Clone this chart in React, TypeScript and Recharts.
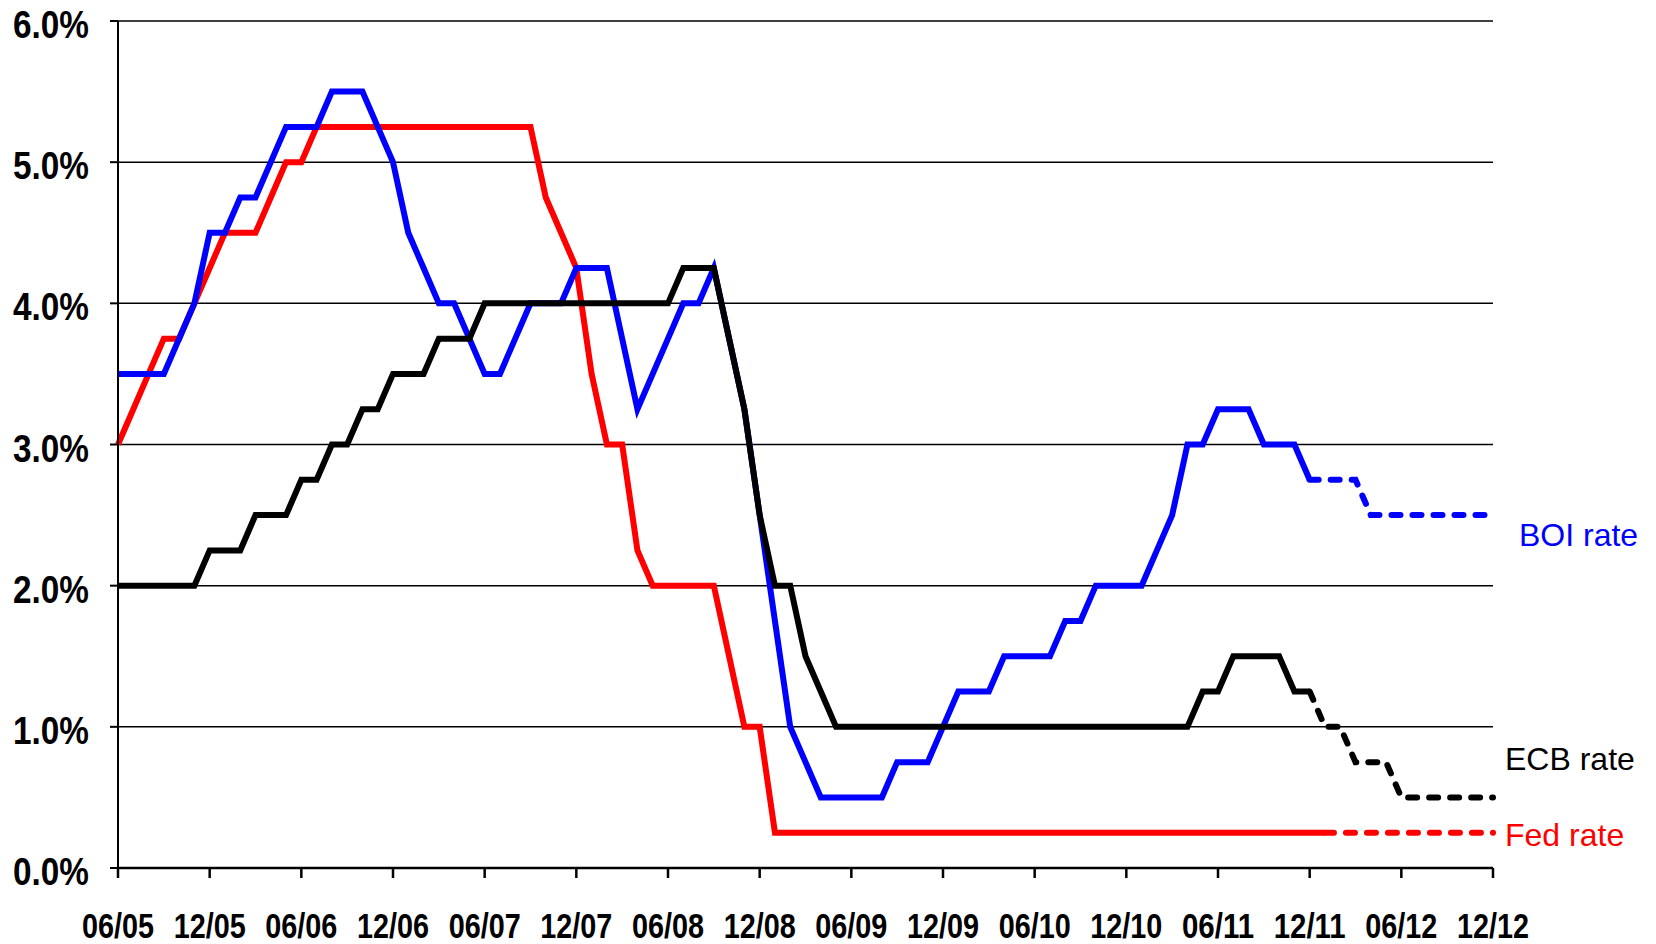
import { LineChart, Line, XAxis, YAxis, CartesianGrid } from "recharts";

// monthly, 06/05 .. 12/12 (index 0..90)
const tickLabels = [
  "06/05", "12/05", "06/06", "12/06", "06/07", "12/07", "06/08", "12/08",
  "06/09", "12/09", "06/10", "12/10", "06/11", "12/11", "06/12", "12/12",
];

const fedRate = [
  3.0, 3.25, 3.5, 3.75, 3.75, 4.0, 4.25, 4.5, 4.5, 4.5, 4.75, 5.0, 5.0,
  5.25, 5.25, 5.25, 5.25, 5.25, 5.25, 5.25, 5.25, 5.25, 5.25, 5.25, 5.25, 5.25, 5.25, 5.25,
  4.75, 4.5, 4.25, 3.5, 3.0, 3.0, 2.25, 2.0, 2.0, 2.0, 2.0, 2.0, 1.5, 1.0, 1.0,
  0.25, 0.25, 0.25, 0.25, 0.25, 0.25, 0.25, 0.25, 0.25, 0.25, 0.25, 0.25, 0.25, 0.25, 0.25, 0.25,
  0.25, 0.25, 0.25, 0.25, 0.25, 0.25, 0.25, 0.25, 0.25, 0.25, 0.25, 0.25, 0.25, 0.25, 0.25, 0.25,
  0.25, 0.25, 0.25, 0.25, 0.25, 0.25, 0.25, 0.25, 0.25, 0.25, 0.25, 0.25, 0.25, 0.25, 0.25, 0.25,
];

const boiRate = [
  3.5, 3.5, 3.5, 3.5, 3.75, 4.0, 4.5, 4.5, 4.75, 4.75, 5.0, 5.25, 5.25, 5.25, 5.5, 5.5,
  5.5, 5.25, 5.0, 4.5, 4.25, 4.0, 4.0, 3.75, 3.5, 3.5, 3.75, 4.0, 4.0, 4.0, 4.25, 4.25,
  4.25, 3.75, 3.25, 3.5, 3.75, 4.0, 4.0, 4.25, 3.75, 3.25, 2.5, 1.75, 1.0, 0.75, 0.5, 0.5,
  0.5, 0.5, 0.5, 0.75, 0.75, 0.75, 1.0, 1.25, 1.25, 1.25, 1.5, 1.5, 1.5, 1.5, 1.75, 1.75,
  2.0, 2.0, 2.0, 2.0, 2.25, 2.5, 3.0, 3.0, 3.25, 3.25, 3.25, 3.0, 3.0, 3.0, 2.75, 2.75,
  2.75, 2.75, 2.5, 2.5, 2.5, 2.5, 2.5, 2.5, 2.5, 2.5, 2.5,
];

const ecbRate = [
  2.0, 2.0, 2.0, 2.0, 2.0, 2.0, 2.25, 2.25, 2.25, 2.5, 2.5, 2.5, 2.75, 2.75, 3.0, 3.0,
  3.25, 3.25, 3.5, 3.5, 3.5, 3.75, 3.75, 3.75, 4.0, 4.0, 4.0, 4.0, 4.0, 4.0, 4.0, 4.0,
  4.0, 4.0, 4.0, 4.0, 4.0, 4.25, 4.25, 4.25, 3.75, 3.25, 2.5, 2.0, 2.0, 1.5, 1.25, 1.0,
  1.0, 1.0, 1.0, 1.0, 1.0, 1.0, 1.0, 1.0, 1.0, 1.0, 1.0, 1.0, 1.0, 1.0, 1.0, 1.0,
  1.0, 1.0, 1.0, 1.0, 1.0, 1.0, 1.0, 1.25, 1.25, 1.5, 1.5, 1.5, 1.5, 1.25, 1.25, 1.0,
  1.0, 0.75, 0.75, 0.75, 0.5, 0.5, 0.5, 0.5, 0.5, 0.5, 0.5,
];

// where the solid (actual) part ends and the dashed (expected) part starts
const boiSplit = 78;
const ecbSplit = 78;
const fedSplit = 79;

const yTicks = [0, 1, 2, 3, 4, 5, 6];
const xTicks = tickLabels.map((_, k) => k * 6);

const data = fedRate.map((_, i) => ({
  i,
  fed: i <= fedSplit ? fedRate[i] : null,
  fedF: i >= fedSplit ? fedRate[i] : null,
  boi: i <= boiSplit ? boiRate[i] : null,
  boiF: i >= boiSplit ? boiRate[i] : null,
  ecb: i <= ecbSplit ? ecbRate[i] : null,
  ecbF: i >= ecbSplit ? ecbRate[i] : null,
}));

const font = "'Liberation Sans', Arial, sans-serif";

// the original uses a condensed bold face; squeeze Liberation Sans Bold to the same width
function XTick({ x, y, payload }: any) {
  return (
    <text
      x={x}
      y={y}
      dy={28}
      textAnchor="middle"
      fill="#000"
      fontSize={35}
      fontWeight={700}
      fontFamily={font}
      textLength={72}
      lengthAdjust="spacingAndGlyphs"
    >
      {tickLabels[payload.value / 6]}
    </text>
  );
}

function YTick({ x, y, payload }: any) {
  return (
    <text
      x={x}
      y={y}
      dy={17}
      textAnchor="end"
      fill="#000"
      fontSize={38}
      fontWeight={700}
      fontFamily={font}
      textLength={76}
      lengthAdjust="spacingAndGlyphs"
    >
      {payload.value.toFixed(1) + "%"}
    </text>
  );
}

const endLabel = (text: string, color: string, dx: number, dy: number) => (props: any) => {
  if (props.index !== data.length - 1) return null;
  return (
    <text
      x={props.x + dx}
      y={props.y + dy}
      fill={color}
      fontSize={32}
      fontFamily={font}
      dominantBaseline="central"
    >
      {text}
    </text>
  );
};

const lineW = 6;
const dash = "9 12";

const App = () => {
  return (
    <div style={{ position: "absolute", left: 0, top: 0, width: 1656, height: 944, background: "#fff" }}>
      <LineChart width={1656} height={944} data={data} margin={{ top: 21, right: 163, bottom: 0, left: 0 }}>
        <CartesianGrid vertical={false} stroke="#000" strokeWidth={1.5} />
        <XAxis
          dataKey="i"
          type="number"
          domain={[0, 90]}
          ticks={xTicks}
          height={76}
          stroke="#000"
          strokeWidth={2.5}
          tickSize={10}
          tickMargin={32}
          interval={0}
          tick={<XTick />}
        />
        <YAxis
          type="number"
          domain={[0, 6]}
          ticks={yTicks}
          width={118}
          stroke="#000"
          strokeWidth={2}
          tickSize={8}
          tickMargin={21}
          interval={0}
          tick={<YTick />}
        />
        <Line dataKey="fed" stroke="#ff0000" strokeWidth={lineW} dot={false} isAnimationActive={false} />
        <Line
          dataKey="fedF"
          stroke="#ff0000"
          strokeWidth={lineW}
          strokeDasharray={dash}
          strokeLinecap="round"
          dot={false}
          isAnimationActive={false}
          label={endLabel("Fed rate", "#ff0000", 12, 2)}
        />
        <Line dataKey="boi" stroke="#0000ff" strokeWidth={lineW} dot={false} isAnimationActive={false} />
        <Line
          dataKey="boiF"
          stroke="#0000ff"
          strokeWidth={lineW}
          strokeDasharray={dash}
          strokeLinecap="round"
          dot={false}
          isAnimationActive={false}
          label={endLabel("BOI rate", "#0000ff", 26, 20)}
        />
        <Line dataKey="ecb" stroke="#000000" strokeWidth={lineW} dot={false} isAnimationActive={false} />
        <Line
          dataKey="ecbF"
          stroke="#000000"
          strokeWidth={lineW}
          strokeDasharray={dash}
          strokeLinecap="round"
          dot={false}
          isAnimationActive={false}
          label={endLabel("ECB rate", "#000000", 12, -38)}
        />
      </LineChart>
    </div>
  );
};

export default App;
